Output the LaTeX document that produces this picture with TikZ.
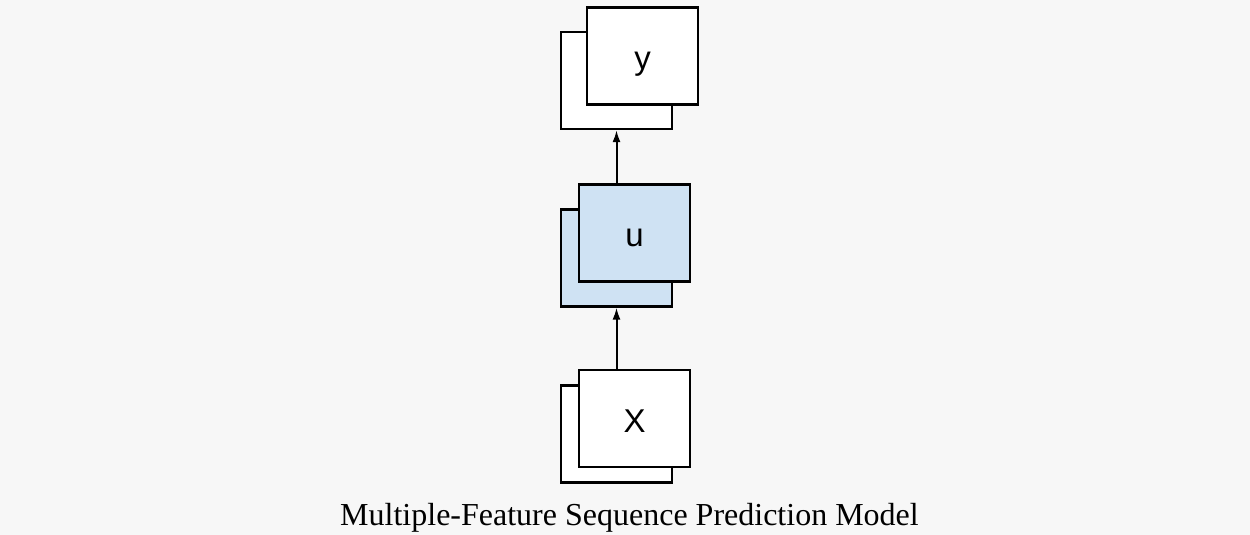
\documentclass[tikz,border=0pt]{standalone}
\usepackage{xcolor}
\usepackage{fontspec}
\setmainfont{Liberation Serif}
\setsansfont{Liberation Sans}
\usepackage{tikz}
\usetikzlibrary{arrows.meta}

\definecolor{pagegray}{HTML}{F7F7F7}
\definecolor{boxblue}{HTML}{CFE2F3}

\begin{document}
\begin{tikzpicture}[x=1pt,y=-1pt,line width=2.2pt,
    layer box/.style={draw,line width=2.2pt,minimum width=111pt,minimum height=97pt,inner sep=0pt,text height=27pt,text depth=0pt,font=\sffamily\fontsize{33}{33}\selectfont},
    plain box/.style={layer box,fill=white},
    blue box/.style={layer box,fill=boxblue},
    feed/.style={-{Latex[length=12pt,width=8pt]},line width=2pt}]
    \fill[pagegray] (0,0) rectangle (1250,535);
    \useasboundingbox (0,0) rectangle (1250,535);
    % output
    \node[plain box] (yback) at (616.5,80.5) {};
    \node[plain box] (y) at (642.5,56) {y};
    % hidden layer
    \node[blue box] (uback) at (616.5,258) {};
    \node[blue box] (u) at (634.5,233) {u};
    % input
    \node[plain box] (xback) at (616.5,434) {};
    \node[plain box] (x) at (634.5,418.5) {X};
    \draw[feed] (x.north -| xback) -- (uback.south);
    \draw[feed] (u.north -| uback) -- (yback.south);
    \node[font=\fontsize{32}{32}\selectfont,anchor=base] (caption) at (629.5,525.5) {Multiple-Feature Sequence Prediction Model};
  \end{tikzpicture}
\end{document}
